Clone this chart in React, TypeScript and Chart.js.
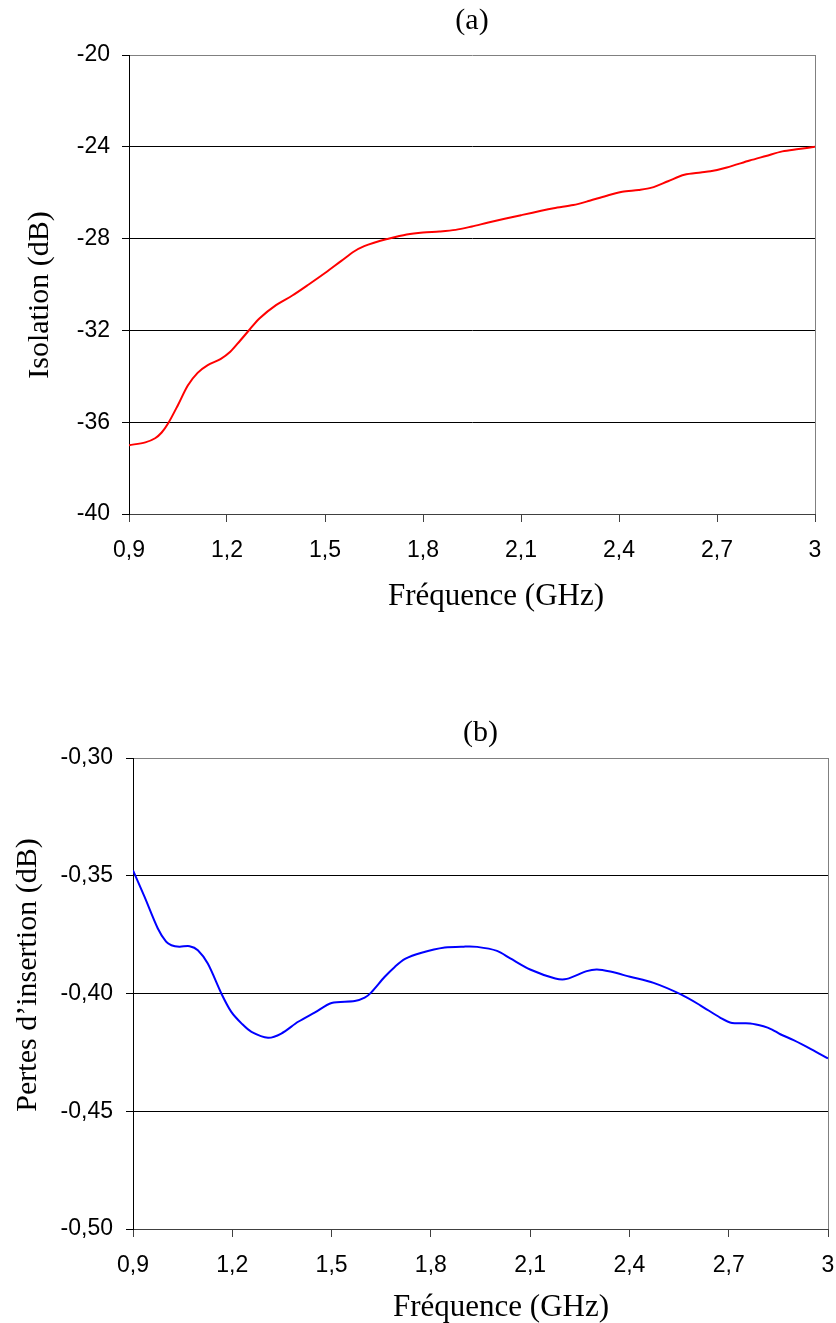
import React, { useEffect, useRef } from 'react';
import { Chart, registerables } from 'chart.js';

Chart.register(...registerables);

// ---------- data ----------
const X_TICKS = [0.9, 1.2, 1.5, 1.8, 2.1, 2.4, 2.7, 3];

const A_Y_TICKS = [-40, -36, -32, -28, -24, -20];
const A_FREQ = [0.9, 0.95, 0.98, 1.0, 1.02, 1.05, 1.08, 1.11, 1.14, 1.18, 1.21, 1.24, 1.27, 1.3, 1.35, 1.4, 1.45, 1.5, 1.55, 1.59, 1.62, 1.65, 1.69, 1.75, 1.8, 1.85, 1.9, 1.95, 2.0, 2.1, 2.2, 2.26, 2.31, 2.36, 2.41, 2.46, 2.5, 2.55, 2.6, 2.65, 2.68, 2.73, 2.8, 2.85, 2.9, 2.95, 3.0];
const A_ISOLATION = [-37.0, -36.88, -36.7, -36.45, -36.05, -35.25, -34.4, -33.85, -33.52, -33.25, -32.93, -32.45, -31.95, -31.47, -30.9, -30.48, -30.0, -29.5, -28.97, -28.55, -28.33, -28.18, -28.02, -27.82, -27.73, -27.69, -27.62, -27.47, -27.3, -26.98, -26.68, -26.54, -26.35, -26.14, -25.96, -25.88, -25.78, -25.5, -25.22, -25.12, -25.07, -24.9, -24.6, -24.4, -24.2, -24.1, -24.0];

const B_Y_TICKS = [-0.5, -0.45, -0.4, -0.35, -0.3];
const B_FREQ = [0.9, 0.935, 0.975, 1.0, 1.016, 1.04, 1.071, 1.096, 1.126, 1.167, 1.197, 1.23, 1.258, 1.308, 1.348, 1.399, 1.45, 1.5, 1.57, 1.6, 1.62, 1.66, 1.691, 1.722, 1.772, 1.842, 1.9, 1.94, 2.0, 2.04, 2.1, 2.176, 2.211, 2.271, 2.302, 2.342, 2.402, 2.473, 2.554, 2.614, 2.675, 2.71, 2.765, 2.805, 2.831, 2.856, 2.896, 2.95, 3.0];
const B_LOSS = [-0.3477, -0.359, -0.3724, -0.378, -0.3795, -0.3801, -0.3799, -0.3816, -0.3873, -0.4, -0.4078, -0.413, -0.4163, -0.4188, -0.417, -0.412, -0.408, -0.404, -0.4032, -0.4018, -0.3995, -0.393, -0.3887, -0.3853, -0.3827, -0.3805, -0.3801, -0.3802, -0.3819, -0.3851, -0.3898, -0.3936, -0.3938, -0.3905, -0.3898, -0.3907, -0.3929, -0.3955, -0.4003, -0.405, -0.4103, -0.4125, -0.4127, -0.4139, -0.4153, -0.4173, -0.4198, -0.4237, -0.4276];

const X_TITLE = 'Fréquence (GHz)';

// ---------- styling ----------
const SANS = '"Liberation Sans", Arial, sans-serif';
const SERIF = '"Liberation Serif", "Times New Roman", serif';
const W = 836;

const fmtX = (v: number) => String(Math.round(v * 10) / 10).replace('.', ',');

type PanelProps = {
  height: number;
  title: string;
  yTitle: string;
  xs: number[];
  ys: number[];
  yTicks: number[];
  yFmt: (v: number) => string;
  color: string;
  yWidth: number;
  padRight: number;
  titleTop: number;
  titleBottom: number;
  xHeight: number;
  xTitlePos: [number, number];
  yTitlePos: [number, number];
  xTickPad: number;
  yTickPad: number;
};

const framePlugin = {
  id: 'frameRight',
  beforeDatasetsDraw(chart: any) {
    const { ctx, chartArea } = chart;
    ctx.save();
    ctx.strokeStyle = '#808080';
    ctx.lineWidth = 1;
    const x = Math.round(chartArea.right) + 0.5;
    ctx.beginPath();
    ctx.moveTo(x, chartArea.top);
    ctx.lineTo(x, chartArea.bottom);
    ctx.stroke();
    ctx.restore();
  },
};

function axisTitlesPlugin(yTitle: string, xPos: [number, number], yPos: [number, number]) {
  return {
    id: 'axisTitles',
    afterDraw(chart: any) {
      const { ctx } = chart;
      ctx.save();
      ctx.fillStyle = '#000';
      ctx.textAlign = 'center';
      ctx.textBaseline = 'middle';
      ctx.font = `31px ${SERIF}`;
      ctx.fillText(X_TITLE, xPos[0], xPos[1]);
      ctx.font = `30px ${SERIF}`;
      ctx.translate(yPos[0], yPos[1]);
      ctx.rotate(-Math.PI / 2);
      ctx.fillText(yTitle, 0, 0);
      ctx.restore();
    },
  };
}

function Panel(p: PanelProps) {
  const ref = useRef<HTMLCanvasElement | null>(null);
  useEffect(() => {
    if (!ref.current) return;
    const yMin = p.yTicks[0];
    const yMax = p.yTicks[p.yTicks.length - 1];
    const chart = new Chart(ref.current, {
      type: 'line',
      data: {
        datasets: [
          {
            data: p.xs.map((x, i) => ({ x, y: p.ys[i] })),
            borderColor: p.color,
            borderWidth: 2,
            pointRadius: 0,
            tension: 0.3,
            fill: false,
          },
        ],
      },
      options: {
        animation: false,
        responsive: false,
        events: [],
        layout: { padding: { left: 0, right: p.padRight, top: 0, bottom: 0 } },
        plugins: {
          legend: { display: false },
          tooltip: { enabled: false },
          title: {
            display: true,
            text: p.title,
            fullSize: false,
            color: '#000',
            font: { family: SERIF, size: 30, weight: 'normal', lineHeight: 1.2 },
            padding: { top: p.titleTop, bottom: p.titleBottom },
          },
        },
        scales: {
          x: {
            type: 'linear',
            min: X_TICKS[0],
            max: X_TICKS[X_TICKS.length - 1],
            afterBuildTicks: (s: any) => {
              s.ticks = X_TICKS.map((v) => ({ value: v }));
            },
            afterFit: (s: any) => {
              s.height = p.xHeight;
              s.paddingLeft = 0;
              s.paddingRight = 0;
            },
            grid: { drawOnChartArea: false, drawTicks: true, tickLength: 8, color: '#404040' },
            border: { display: true, color: '#404040', width: 1 },
            ticks: {
              color: '#000',
              font: { family: SANS, size: 23 },
              padding: p.xTickPad,
              maxRotation: 0,
              autoSkip: false,
              callback: (v: any) => fmtX(Number(v)),
            },
            title: { display: false },
          },
          y: {
            type: 'linear',
            min: yMin,
            max: yMax,
            afterBuildTicks: (s: any) => {
              s.ticks = p.yTicks.map((v) => ({ value: v }));
            },
            afterFit: (s: any) => {
              s.width = p.yWidth;
            },
            grid: {
              color: (ctx: any) => (ctx.tick && ctx.tick.value === yMax ? '#808080' : '#000'),
              tickColor: '#000',
              tickLength: 7,
              drawTicks: true,
            },
            border: { display: true, color: '#000', width: 1 },
            ticks: {
              color: '#000',
              font: { family: SANS, size: 23 },
              padding: p.yTickPad,
              autoSkip: false,
              callback: (v: any) => p.yFmt(Number(v)),
            },
            title: { display: false },
          },
        },
      } as any,
      plugins: [framePlugin, axisTitlesPlugin(p.yTitle, p.xTitlePos, p.yTitlePos)],
    });
    return () => chart.destroy();
  }, []);
  return <canvas ref={ref} width={W} height={p.height} style={{ display: 'block', width: W, height: p.height }} />;
}

export default function App() {
  return (
    <div style={{ position: 'absolute', left: 0, top: 0, width: W, height: 1323, background: '#fff', overflow: 'hidden' }}>
      <Panel
        height={640}
        title="(a)"
        yTitle="Isolation (dB)"
        xs={A_FREQ}
        ys={A_ISOLATION}
        yTicks={A_Y_TICKS}
        yFmt={(v) => String(v)}
        color="#ff0000"
        yWidth={129}
        padRight={21}
        titleTop={3}
        titleBottom={16}
        xHeight={126}
        xTitlePos={[496, 597]}
        yTitlePos={[40, 295]}
        xTickPad={15}
        yTickPad={12}
      />
      <Panel
        height={683}
        title="(b)"
        yTitle="Pertes d’insertion (dB)"
        xs={B_FREQ}
        ys={B_LOSS}
        yTicks={B_Y_TICKS}
        yFmt={(v) => v.toFixed(2).replace('.', ',')}
        color="#0000ff"
        yWidth={133}
        padRight={8}
        titleTop={75}
        titleBottom={7}
        xHeight={94}
        xTitlePos={[501, 668]}
        yTitlePos={[28, 335]}
        xTickPad={15}
        yTickPad={13}
      />
    </div>
  );
}
